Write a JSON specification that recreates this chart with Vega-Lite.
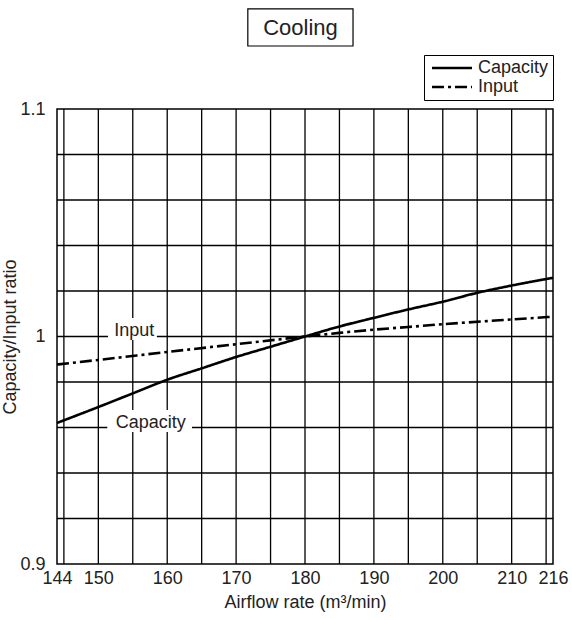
{
  "$schema": "https://vega.github.io/schema/vega-lite/v6.json",
  "width": 496,
  "height": 455,
  "autosize": {"type": "none"},
  "padding": {"left": 57, "top": 109, "right": 19, "bottom": 56},
  "background": "white",
  "config": {
    "font": "Liberation Sans",
    "view": {"stroke": "black", "strokeWidth": 1.5},
    "axis": {
      "labelFont": "Liberation Sans",
      "titleFont": "Liberation Sans",
      "labelColor": "#222",
      "titleColor": "#222",
      "titleFontWeight": "normal"
    }
  },
  "datasets": {
    "curves": [
      {"airflow": 144, "ratio": 0.962, "series": "Capacity"},
      {"airflow": 150, "ratio": 0.969, "series": "Capacity"},
      {"airflow": 155, "ratio": 0.975, "series": "Capacity"},
      {"airflow": 160, "ratio": 0.981, "series": "Capacity"},
      {"airflow": 165, "ratio": 0.986, "series": "Capacity"},
      {"airflow": 170, "ratio": 0.991, "series": "Capacity"},
      {"airflow": 175, "ratio": 0.9955, "series": "Capacity"},
      {"airflow": 180, "ratio": 1.0, "series": "Capacity"},
      {"airflow": 185, "ratio": 1.0044, "series": "Capacity"},
      {"airflow": 190, "ratio": 1.0082, "series": "Capacity"},
      {"airflow": 195, "ratio": 1.0119, "series": "Capacity"},
      {"airflow": 200, "ratio": 1.0153, "series": "Capacity"},
      {"airflow": 205, "ratio": 1.0192, "series": "Capacity"},
      {"airflow": 210, "ratio": 1.0224, "series": "Capacity"},
      {"airflow": 216, "ratio": 1.0258, "series": "Capacity"},
      {"airflow": 144, "ratio": 0.9877, "series": "Input"},
      {"airflow": 150, "ratio": 0.9897, "series": "Input"},
      {"airflow": 160, "ratio": 0.9932, "series": "Input"},
      {"airflow": 170, "ratio": 0.9966, "series": "Input"},
      {"airflow": 180, "ratio": 1.0, "series": "Input"},
      {"airflow": 185, "ratio": 1.0016, "series": "Input"},
      {"airflow": 190, "ratio": 1.003, "series": "Input"},
      {"airflow": 195, "ratio": 1.0042, "series": "Input"},
      {"airflow": 200, "ratio": 1.0054, "series": "Input"},
      {"airflow": 210, "ratio": 1.0075, "series": "Input"},
      {"airflow": 216, "ratio": 1.0087, "series": "Input"}
    ],
    "xgrid": [
      {"v": 145}, {"v": 150}, {"v": 155}, {"v": 160}, {"v": 165}, {"v": 170}, {"v": 175}, {"v": 180},
      {"v": 185}, {"v": 190}, {"v": 195}, {"v": 200}, {"v": 205}, {"v": 210}, {"v": 215}
    ],
    "ygrid": [
      {"v": 0.92}, {"v": 0.94}, {"v": 0.96}, {"v": 0.98}, {"v": 1.0},
      {"v": 1.02}, {"v": 1.04}, {"v": 1.06}, {"v": 1.08}
    ],
    "labels": [
      {"label": "Input", "x": 155.2, "y": 1.0024, "x0": 151.4, "x1": 158.5, "y0": 1.0081, "y1": 0.9985},
      {"label": "Capacity", "x": 157.6, "y": 0.962, "x0": 151.3, "x1": 163.6, "y0": 0.9677, "y1": 0.958}
    ]
  },
  "layer": [
    {
      "data": {"name": "curves"},
      "mark": {"type": "line", "opacity": 0},
      "encoding": {
        "x": {
          "field": "airflow", "type": "quantitative",
          "scale": {"domain": [144, 216], "nice": false, "zero": false},
          "axis": {
            "title": "Airflow rate (m³/min)",
            "titleFontSize": 18,
            "titlePadding": 6,
            "values": [144, 150, 160, 170, 180, 190, 200, 210, 216],
            "labelFontSize": 18,
            "labelPadding": 5,
            "labelFlush": false,
            "labelOverlap": false,
            "ticks": false,
            "domain": false,
            "grid": false
          }
        },
        "y": {
          "field": "ratio", "type": "quantitative",
          "scale": {"domain": [0.9, 1.1], "nice": false, "zero": false},
          "axis": {
            "title": "Capacity/Input ratio",
            "titleFontSize": 18,
            "titlePadding": 0,
            "values": [0.9, 1.0, 1.1],
            "labelExpr": "abs(datum.value-1) < 1e-6 ? '1' : abs(datum.value-1.1) < 1e-6 ? '1.1' : '0.9'",
            "labelFontSize": 18,
            "labelPadding": 12,
            "labelFlush": false,
            "labelOverlap": false,
            "ticks": false,
            "domain": false,
            "grid": false
          }
        }
      }
    },
    {
      "data": {"name": "xgrid"},
      "mark": {"type": "rule", "color": "black", "strokeWidth": 1.3},
      "encoding": {"x": {"field": "v", "type": "quantitative"}}
    },
    {
      "data": {"name": "ygrid"},
      "mark": {"type": "rule", "color": "black", "strokeWidth": 1.3},
      "encoding": {"y": {"field": "v", "type": "quantitative"}}
    },
    {
      "data": {"name": "labels"},
      "mark": {"type": "rect", "fill": "white", "stroke": null},
      "encoding": {
        "x": {"field": "x0", "type": "quantitative"},
        "x2": {"field": "x1"},
        "y": {"field": "y0", "type": "quantitative"},
        "y2": {"field": "y1"}
      }
    },
    {
      "data": {"name": "curves"},
      "mark": {"type": "line", "interpolate": "monotone", "strokeWidth": 2.6, "color": "black"},
      "encoding": {
        "x": {"field": "airflow", "type": "quantitative"},
        "y": {"field": "ratio", "type": "quantitative"},
        "strokeDash": {
          "field": "series", "type": "nominal",
          "scale": {"domain": ["Capacity", "Input"], "range": [[1, 0], [12, 4, 3, 4]]},
          "legend": {
            "title": null,
            "orient": "none",
            "legendX": 367,
            "legendY": -54,
            "symbolType": "M-4,0H4",
            "symbolSize": 100,
            "symbolOffset": 15,
            "symbolStrokeWidth": 2.5,
            "symbolStrokeColor": "black",
            "labelFontSize": 18,
            "labelFont": "Liberation Sans",
            "labelColor": "#222",
            "labelOffset": 17,
            "rowPadding": 1,
            "padding": 4,
            "strokeColor": "black",
            "fillColor": "white"
          }
        }
      }
    },
    {
      "data": {"name": "labels"},
      "mark": {"type": "text", "fontSize": 18, "color": "#222", "font": "Liberation Sans"},
      "encoding": {
        "x": {"field": "x", "type": "quantitative"},
        "y": {"field": "y", "type": "quantitative"},
        "text": {"field": "label"}
      }
    },
    {
      "data": {"values": [{"title": "Cooling"}]},
      "mark": {"type": "rect", "fill": "white", "stroke": "black", "strokeWidth": 1.2},
      "encoding": {
        "x": {"datum": 171.7, "type": "quantitative"},
        "x2": {"datum": 186.97},
        "y": {"datum": 1.144, "type": "quantitative"},
        "y2": {"datum": 1.1277}
      }
    },
    {
      "data": {"values": [{"title": "Cooling"}]},
      "mark": {"type": "text", "fontSize": 22, "color": "#222", "font": "Liberation Sans"},
      "encoding": {
        "x": {"datum": 179.35, "type": "quantitative"},
        "y": {"datum": 1.1358, "type": "quantitative"},
        "text": {"field": "title"}
      }
    }
  ]
}
